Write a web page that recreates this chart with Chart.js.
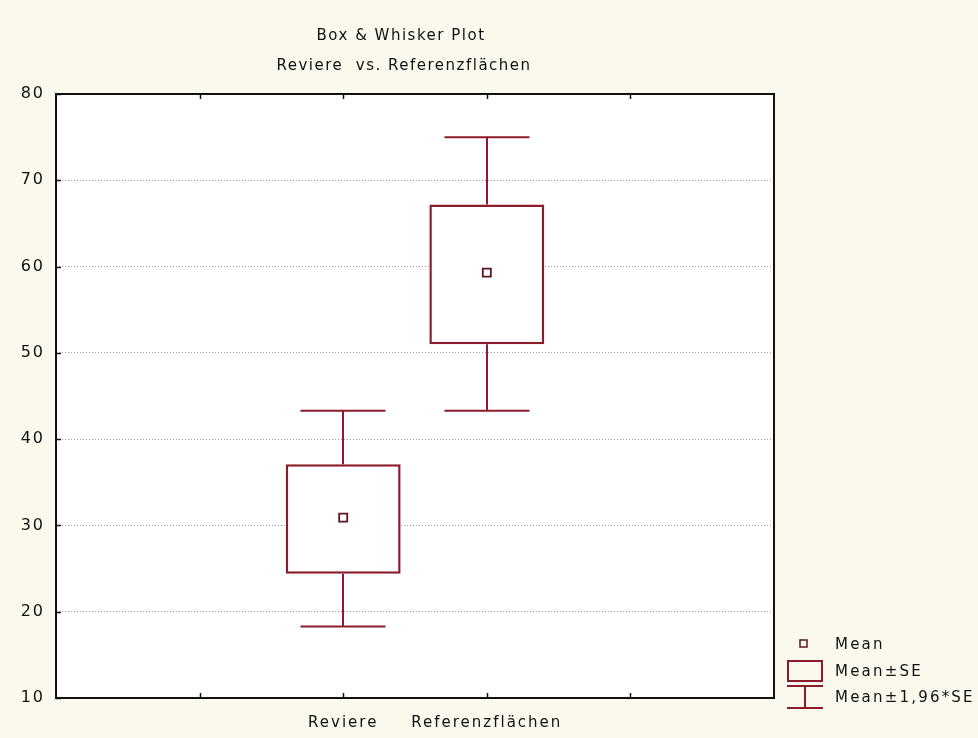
<!DOCTYPE html>
<html>
<head>
<meta charset="utf-8">
<script src="https://cdn.jsdelivr.net/npm/chart.js@4/dist/chart.umd.min.js"></script>
<style>
  html, body { margin: 0; padding: 0; background: #fbf9ee; }
  #wrap { width: 978px; height: 738px; }
</style>
</head>
<body>
<div id="wrap"><canvas id="c" width="978" height="738"></canvas></div>
<script>
// Groups and their summary statistics
const categories = ['Reviere', 'Referenzflächen'];
const means  = [30.9, 59.3];
const seLow  = [24.4, 51.0];   // Mean - SE
const seHigh = [37.1, 67.2];   // Mean + SE
const ciLow  = [18.3, 43.3];   // Mean - 1.96*SE
const ciHigh = [43.3, 75.0];   // Mean + 1.96*SE

// Axis labels: two empty slots on each side of the groups
const xLabels = ['', '', ...categories, '', ''];
const yTicks = [10, 20, 30, 40, 50, 60, 70, 80];

const titleLines = ['Box & Whisker Plot', 'Reviere  vs. Referenzflächen'];
const legendItems = ['Mean', 'Mean±SE', 'Mean±1,96*SE'];

const BOX = '#8c1c2c';
const MEAN = '#5a1620';
const TEXT = '#111111';
const FONT = '"DejaVu Sans", sans-serif';

const firstIdx = xLabels.indexOf(categories[0]);
const boxData = xLabels.map(() => null);
const meanData = xLabels.map(() => null);
categories.forEach((c, i) => {
  boxData[firstIdx + i] = [seLow[i], seHigh[i]];
  meanData[firstIdx + i] = means[i];
});

const decorations = {
  id: 'decorations',
  beforeDraw(chart) {
    const { ctx, chartArea: a } = chart;
    ctx.save();
    ctx.fillStyle = '#fbf9ee';
    ctx.fillRect(0, 0, chart.width, chart.height);
    ctx.fillStyle = '#ffffff';
    ctx.fillRect(a.left, a.top, a.right - a.left, a.bottom - a.top);
    ctx.restore();
    ctx.letterSpacing = '2px';
  },
  beforeDatasetsDraw(chart) {
    // whiskers: Mean ± 1.96*SE
    const { ctx } = chart;
    const xs = chart.scales.x, ys = chart.scales.y;
    const barMeta = chart.getDatasetMeta(0);
    ctx.save();
    ctx.strokeStyle = BOX;
    ctx.lineWidth = 2;
    categories.forEach((c, i) => {
      const x = Math.round(xs.getPixelForValue(firstIdx + i));
      const bw = barMeta.data[firstIdx + i].width;
      const half = bw * 0.37;
      const yT = ys.getPixelForValue(ciHigh[i]);
      const yB = ys.getPixelForValue(ciLow[i]);
      const yST = ys.getPixelForValue(seHigh[i]);
      const ySB = ys.getPixelForValue(seLow[i]);
      ctx.beginPath();
      ctx.moveTo(x, yT); ctx.lineTo(x, yST);
      ctx.moveTo(x, ySB); ctx.lineTo(x, yB);
      ctx.moveTo(x - half, yT); ctx.lineTo(x + half, yT);
      ctx.moveTo(x - half, yB); ctx.lineTo(x + half, yB);
      ctx.stroke();
    });
    ctx.restore();
  },
  afterDraw(chart) {
    const { ctx, chartArea: a } = chart;
    const xs = chart.scales.x, ys = chart.scales.y;
    ctx.save();
    // frame
    ctx.strokeStyle = '#111';
    ctx.lineWidth = 2;
    ctx.strokeRect(a.left, a.top, a.right - a.left, a.bottom - a.top);
    // inward tick marks
    ctx.lineWidth = 1.5;
    ctx.beginPath();
    for (let k = 1; k < xLabels.length - 1; k++) {
      const x = Math.round(xs.getPixelForValue(k)) + 0.5;
      ctx.moveTo(x, a.top); ctx.lineTo(x, a.top + 5);
      ctx.moveTo(x, a.bottom); ctx.lineTo(x, a.bottom - 5);
    }
    yTicks.forEach(v => {
      const y = Math.round(ys.getPixelForValue(v)) + 0.5;
      ctx.moveTo(a.left, y); ctx.lineTo(a.left + 5, y);
    });
    ctx.stroke();

    // titles
    ctx.fillStyle = TEXT;
    ctx.font = '15px ' + FONT;
    ctx.letterSpacing = '1.5px';
    ctx.textAlign = 'center';
    ctx.textBaseline = 'middle';
    ctx.fillText(titleLines[0], 401, 36);
    ctx.fillText(titleLines[1], 404, 66);

    // legend
    ctx.letterSpacing = '2.2px';
    ctx.textAlign = 'left';
    const lx = 835;
    const ly = [645, 672, 698];
    ctx.fillText(legendItems[0], lx, ly[0]);
    ctx.fillText(legendItems[1], lx, ly[1]);
    ctx.fillText(legendItems[2], lx, ly[2]);

    ctx.strokeStyle = MEAN;
    ctx.lineWidth = 1.5;
    ctx.strokeRect(800, 640, 7, 7);
    ctx.strokeStyle = BOX;
    ctx.lineWidth = 2;
    ctx.strokeRect(788, 661, 34, 20);
    ctx.beginPath();
    ctx.moveTo(787, 686); ctx.lineTo(823, 686);
    ctx.moveTo(805, 686); ctx.lineTo(805, 708);
    ctx.moveTo(787, 708); ctx.lineTo(823, 708);
    ctx.stroke();
    ctx.restore();
  }
};

new Chart(document.getElementById('c'), {
  type: 'bar',
  data: {
    labels: xLabels,
    datasets: [
      {
        label: 'Mean±SE',
        data: boxData,
        backgroundColor: '#ffffff',
        borderColor: BOX,
        borderWidth: 2.5,
        borderSkipped: false,
        categoryPercentage: 1,
        barPercentage: 0.8,
        order: 2
      },
      {
        type: 'line',
        label: 'Mean',
        data: meanData,
        showLine: false,
        pointStyle: 'rect',
        pointRadius: 5.7,
        pointBorderWidth: 1.8,
        pointBackgroundColor: '#ffffff',
        pointBorderColor: MEAN,
        order: 1
      }
    ]
  },
  options: {
    responsive: false,
    animation: false,
    events: [],
    layout: { padding: { left: 0, right: 204, top: 94, bottom: 0 } },
    plugins: { legend: { display: false }, tooltip: { enabled: false }, title: { display: false } },
    scales: {
      x: {
        type: 'category',
        offset: false,
        grid: { display: false, drawTicks: false },
        border: { display: false },
        ticks: {
          autoSkip: false, maxRotation: 0, padding: 16,
          color: TEXT, font: { family: FONT, size: 15 }
        },
        afterFit(s) { s.height = 40; }
      },
      y: {
        type: 'linear',
        min: 10, max: 80,
        afterBuildTicks(s) { s.ticks = yTicks.map(v => ({ value: v })); },
        grid: { color: '#9a9a9a', lineWidth: 1, drawTicks: false },
        border: { display: false, dash: [1, 2] },
        ticks: {
          padding: 11, color: TEXT, font: { family: FONT, size: 16 }
        },
        afterFit(s) { s.width = 56; }
      }
    }
  },
  plugins: [decorations]
});
</script>
</body>
</html>
